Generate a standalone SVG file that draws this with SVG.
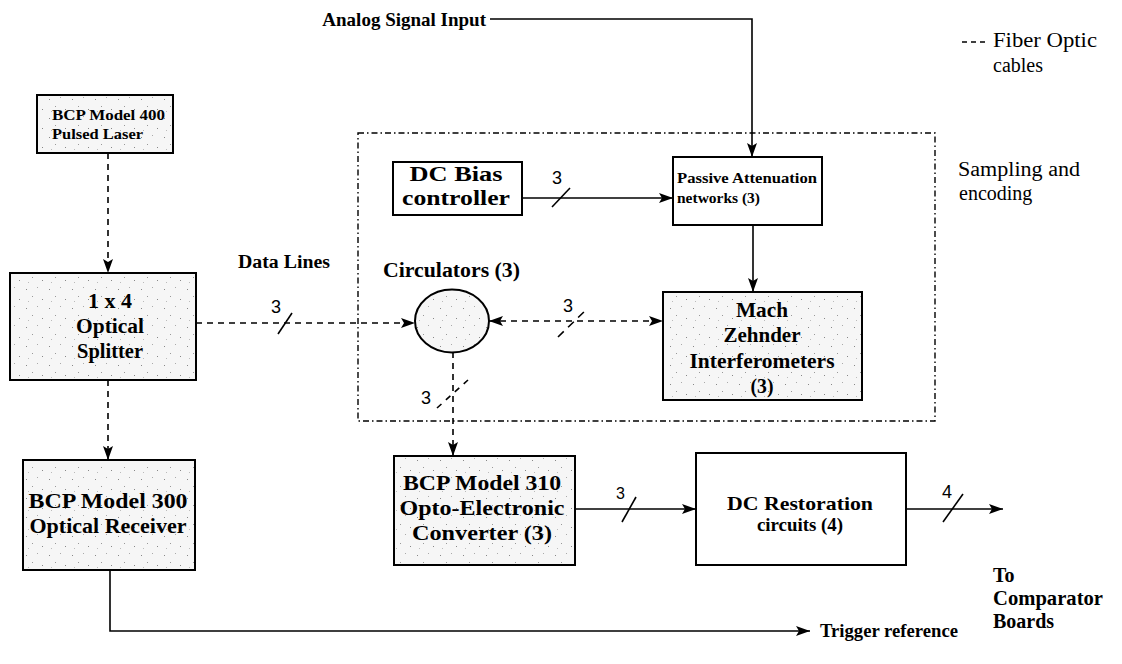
<svg xmlns="http://www.w3.org/2000/svg" width="1122" height="664" viewBox="0 0 1122 664">
<defs>
<marker id="ah" viewBox="0 0 14 10" refX="14" refY="5" markerWidth="14" markerHeight="10" markerUnits="userSpaceOnUse" orient="auto-start-reverse">
<path d="M0,0 L14,5 L0,10 L3,5 Z" fill="#000"/>
</marker>
<pattern id="stp" width="23" height="19" patternUnits="userSpaceOnUse">
<rect width="23" height="19" fill="#f6f6f6"/>
<rect x="3" y="4" width="1" height="1" fill="#888"/>
<rect x="14" y="2" width="1" height="1" fill="#aaa"/>
<rect x="9" y="11" width="1" height="1" fill="#999"/>
<rect x="19" y="14" width="1" height="1" fill="#888"/>
<rect x="5" y="16" width="1" height="1" fill="#bbb"/>
</pattern>
</defs>
<style>
.box{stroke:#000;stroke-width:2;fill:#fff}
.stip{stroke:#000;stroke-width:2;fill:url(#stp)}
.t{font-weight:bold;fill:#000}
.c{text-anchor:middle}
.r{fill:#000}
.n{font-family:'Liberation Sans',Arial,sans-serif;fill:#000;font-size:18px}
.sol{stroke:#000;stroke-width:1.6;fill:none}
.dash{stroke:#000;stroke-width:1.6;fill:none;stroke-dasharray:6 5}
.sl{stroke:#000;stroke-width:1.6}
</style>
<rect width="1122" height="664" fill="#fff"/>

<g id="boundary">
<rect x="358" y="133" width="577" height="288" fill="none" stroke="#000" stroke-width="1.4" stroke-dasharray="6 3 1.5 3"/>
</g>

<g id="connectors">
<path class="dash" d="M108,153 V273" marker-end="url(#ah)"/>
<path class="dash" d="M108,380 V460" marker-end="url(#ah)"/>
<path class="sol" d="M110,570 V631 H810" marker-end="url(#ah)"/>
<path class="dash" d="M196,323 H415" marker-end="url(#ah)"/>
<line class="sl" x1="278" y1="334" x2="292" y2="313"/>
<path class="dash" d="M489,321 H663" marker-start="url(#ah)" marker-end="url(#ah)"/>
<line class="sl" x1="558" y1="337" x2="588" y2="308" stroke-dasharray="8 6"/>
<path class="dash" d="M453,352 V456" marker-end="url(#ah)"/>
<line class="sl" x1="437" y1="408" x2="468" y2="380" stroke-dasharray="6 6"/>
<path class="sol" d="M490,19 H752 V157" marker-end="url(#ah)"/>
<path class="sol" d="M522,198 H673" marker-end="url(#ah)"/>
<line class="sl" x1="552" y1="207" x2="570" y2="188"/>
<path class="sol" d="M753,225 V292" marker-end="url(#ah)"/>
<path class="sol" d="M575,509 H696" marker-end="url(#ah)"/>
<line class="sl" x1="622" y1="522" x2="636" y2="497"/>
<path class="sol" d="M906,509 H1003" marker-end="url(#ah)"/>
<line class="sl" x1="943" y1="522" x2="963" y2="494"/>
</g>

<g id="labels">
<text class="n" x="271" y="313">3</text>
<text class="n" x="563" y="312">3</text>
<text class="n" x="421" y="404">3</text>
<text class="n" x="552" y="184">3</text>
<text class="n" x="616" y="499" style="font-size:16px">3</text>
<text class="n" x="942" y="498">4</text>
</g>

<g font-family="'Liberation Serif','Times New Roman',Tinos,'DejaVu Serif',serif">
<g id="texts">
<text class="t" x="238" y="268" font-size="18" textLength="92" lengthAdjust="spacingAndGlyphs">Data Lines</text>
<text class="t" x="486" y="26" font-size="19" text-anchor="end">Analog Signal Input</text>
<text class="t" x="820" y="637" font-size="19" textLength="138" lengthAdjust="spacingAndGlyphs">Trigger reference</text>
<text class="t" x="993" y="582" font-size="20">To</text>
<text class="t" x="993" y="605" font-size="20" textLength="110" lengthAdjust="spacingAndGlyphs">Comparator</text>
<text class="t" x="993" y="628" font-size="20">Boards</text>
<text class="t" x="383" y="277" font-size="20" textLength="137" lengthAdjust="spacingAndGlyphs">Circulators (3)</text>
<text class="r" x="958" y="176" font-size="20" textLength="122" lengthAdjust="spacingAndGlyphs">Sampling and</text>
<text class="r" x="959" y="200" font-size="20">encoding</text>
</g>

<g id="legend">
<line x1="962" y1="42" x2="988" y2="42" stroke="#000" stroke-width="1.4" stroke-dasharray="5 4"/>
<text class="r" x="993" y="47" font-size="20" textLength="104" lengthAdjust="spacingAndGlyphs">Fiber Optic</text>
<text class="r" x="993" y="72" font-size="20">cables</text>
</g>

<g id="laser">
<rect class="stip" x="37" y="95" width="136" height="58"/>
<text class="t" x="52" y="120" font-size="14" textLength="113" lengthAdjust="spacingAndGlyphs">BCP Model 400</text>
<text class="t" x="52" y="139" font-size="14" textLength="91" lengthAdjust="spacingAndGlyphs">Pulsed Laser</text>
</g>

<g id="splitter">
<rect class="stip" x="10" y="273" width="186" height="107"/>
<text class="t c" x="110" y="308" font-size="20" textLength="44" lengthAdjust="spacingAndGlyphs">1 x 4</text>
<text class="t c" x="110" y="333" font-size="20" textLength="68" lengthAdjust="spacingAndGlyphs">Optical</text>
<text class="t c" x="110" y="358" font-size="20" textLength="66" lengthAdjust="spacingAndGlyphs">Splitter</text>
</g>

<g id="receiver">
<rect class="stip" x="23" y="460" width="172" height="110"/>
<text class="t c" x="108" y="508" font-size="22" textLength="159" lengthAdjust="spacingAndGlyphs">BCP Model 300</text>
<text class="t c" x="108" y="533" font-size="22" textLength="157" lengthAdjust="spacingAndGlyphs">Optical Receiver</text>
</g>

<g id="circulator">
<ellipse class="stip" cx="452" cy="321" rx="37" ry="31.5"/>
</g>

<g id="dcbias">
<rect class="box" x="393" y="162" width="129" height="53"/>
<text class="t c" x="456" y="181" font-size="20" textLength="93" lengthAdjust="spacingAndGlyphs">DC Bias</text>
<text class="t c" x="456" y="205" font-size="20" textLength="108" lengthAdjust="spacingAndGlyphs">controller</text>
</g>

<g id="passive">
<rect class="box" x="673" y="157" width="149" height="68"/>
<text class="t" x="677" y="183" font-size="15" textLength="140" lengthAdjust="spacingAndGlyphs">Passive Attenuation</text>
<text class="t" x="677" y="203" font-size="15" textLength="83" lengthAdjust="spacingAndGlyphs">networks (3)</text>
</g>

<g id="mzi">
<rect class="stip" x="663" y="292" width="199" height="108"/>
<text class="t c" x="762" y="317" font-size="21" textLength="52" lengthAdjust="spacingAndGlyphs">Mach</text>
<text class="t c" x="762" y="342" font-size="21" textLength="77" lengthAdjust="spacingAndGlyphs">Zehnder</text>
<text class="t c" x="762" y="368" font-size="21" textLength="145" lengthAdjust="spacingAndGlyphs">Interferometers</text>
<text class="t c" x="762" y="393" font-size="21" textLength="23" lengthAdjust="spacingAndGlyphs">(3)</text>
</g>

<g id="converter">
<rect class="stip" x="394" y="456" width="181" height="109"/>
<text class="t c" x="482" y="490" font-size="21" textLength="158" lengthAdjust="spacingAndGlyphs">BCP Model 310</text>
<text class="t c" x="482" y="515" font-size="21" textLength="165" lengthAdjust="spacingAndGlyphs">Opto-Electronic</text>
<text class="t c" x="482" y="540" font-size="21" textLength="140" lengthAdjust="spacingAndGlyphs">Converter (3)</text>
</g>

<g id="restoration">
<rect class="box" x="696" y="453" width="210" height="112"/>
<text class="t c" x="800" y="510" font-size="19" textLength="146" lengthAdjust="spacingAndGlyphs">DC Restoration</text>
<text class="t c" x="800" y="531" font-size="19" textLength="86" lengthAdjust="spacingAndGlyphs">circuits (4)</text>
</g>
</g>
</svg>
